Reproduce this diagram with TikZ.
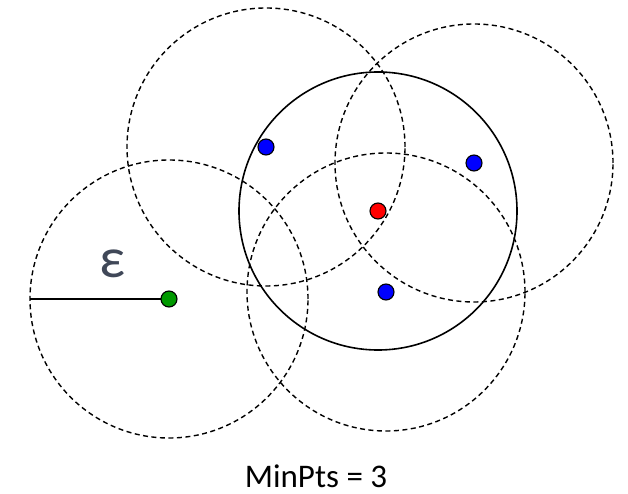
\documentclass[tikz,border=0pt]{standalone}
\usepackage{fontspec}
\setmainfont{Carlito}
\usetikzlibrary{positioning}
\definecolor{epsgray}{RGB}{64,72,88}
\begin{document}
\begin{tikzpicture}[
      x=1pt, y=-1pt,
      pt/.style={circle, draw, line width=1.1pt, inner sep=0pt, minimum size=16pt},
      nbhd/.style={draw, dashed, line width=1.4pt, dash pattern=on 5pt off 3.5pt},
      core/.style={draw, line width=1.6pt}
    ]
    \useasboundingbox (0,0) rectangle (628,494);
    % neighbourhoods
    \coordinate (c0) at (378,211);
    \coordinate (c1) at (266,147);
    \coordinate (c2) at (474,163);
    \coordinate (c3) at (386,292);
    \coordinate (c4) at (169,299);
    \draw[nbhd] (c1) circle[radius=139pt];
    \draw[nbhd] (c2) circle[radius=139pt];
    \draw[nbhd] (c3) circle[radius=139pt];
    \draw[nbhd] (c4) circle[radius=139pt];
    \draw[core] (c0) circle[radius=139pt];
    % radius
    \coordinate (e) at (30,299);
    \draw[core] (e) -- (c4);
    \node[text=epsgray, font=\fontsize{57}{57}\selectfont, anchor=base, inner sep=0pt] (eps) at (112,277) {ε};
    % points
    \node[pt, fill=red] (r) at (c0) {};
    \node[pt, fill=blue] (b1) at (c1) {};
    \node[pt, fill=blue] (b2) at (c2) {};
    \node[pt, fill=blue] (b3) at (c3) {};
    \node[pt, fill=green!60!black] (g) at (c4) {};
    \node[font=\fontsize{33}{33}\selectfont, anchor=base, inner sep=0pt] (minpts) at (316,487) {MinPts = 3};
    \end{tikzpicture}
\end{document}
